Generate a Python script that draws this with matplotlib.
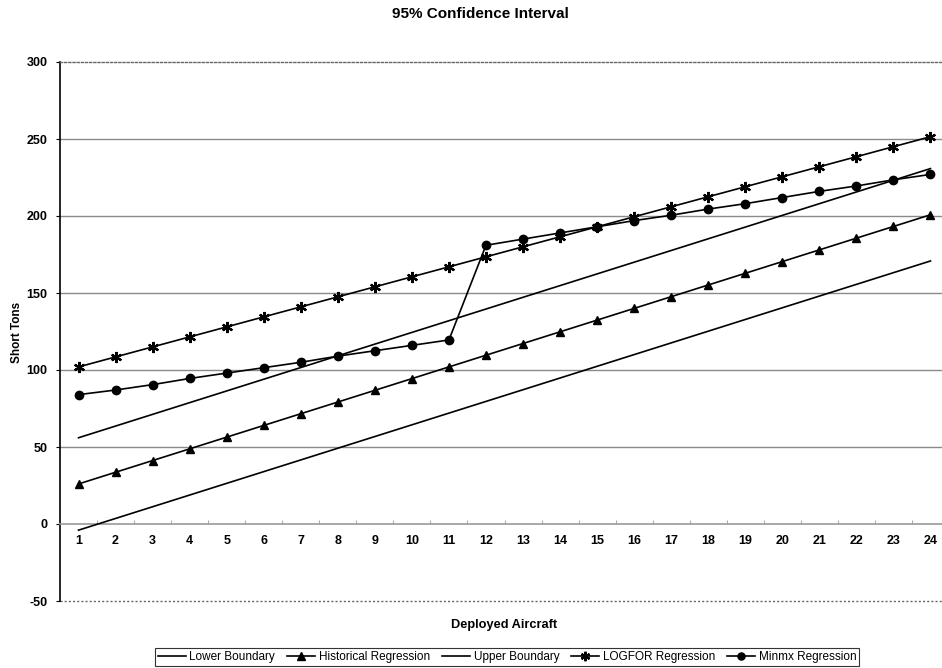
import matplotlib
matplotlib.use("Agg")
import matplotlib.pyplot as plt
from matplotlib.ticker import FixedLocator

plt.rcParams['font.family'] = ['Liberation Sans', 'DejaVu Sans']

aircraft = list(range(1, 25))

lower_boundary = [-4.0, 3.6, 11.2, 18.8, 26.4, 34.0, 41.6, 49.2, 56.8, 64.4, 72.0, 79.6,
                  87.2, 94.8, 102.4, 110.0, 117.6, 125.2, 132.8, 140.4, 148.0, 155.6, 163.2, 170.8]
historical = [26.0, 33.6, 41.2, 48.8, 56.4, 64.0, 71.6, 79.2, 86.8, 94.4, 102.0, 109.6,
              117.2, 124.8, 132.4, 140.0, 147.6, 155.2, 162.8, 170.4, 178.0, 185.6, 193.2, 200.8]
upper_boundary = [56.0, 63.6, 71.2, 78.8, 86.4, 94.0, 101.6, 109.2, 116.8, 124.4, 132.0, 139.6,
                  147.2, 154.8, 162.4, 170.0, 177.6, 185.2, 192.8, 200.4, 208.0, 215.6, 223.2, 230.8]
logfor = [102.0, 108.5, 115.0, 121.5, 128.0, 134.5, 141.0, 147.5, 154.0, 160.5, 167.0, 173.5,
          180.0, 186.5, 193.0, 199.5, 206.0, 212.5, 219.0, 225.5, 232.0, 238.5, 245.0, 251.5]
minmx = [84.0, 87.0, 90.5, 94.5, 98.0, 101.5, 105.0, 109.0, 112.5, 116.0, 119.5, 181.0,
         185.0, 189.0, 193.0, 197.0, 200.5, 204.5, 208.0, 212.0, 216.0, 219.5, 223.5, 227.0]

y_ticks = [-50, 0, 50, 100, 150, 200, 250, 300]

fig = plt.figure(figsize=(9.42, 6.68), dpi=100)
ax = fig.add_axes([60 / 942, 1 - 601 / 668, 889 / 942, 539 / 668])

ax.set_xlim(0.5, 24.5)
ax.set_ylim(-50, 300)

# horizontal gridlines
for y in y_ticks[2:-1]:
    ax.axhline(y, color='#8a8a8a', lw=1.0, zorder=1)
ax.axhline(-50, color='#666666', lw=1.0, ls=(0, (1.5, 1.5)), zorder=1, clip_on=False)

lw = 1.2
ax.plot(aircraft, lower_boundary, color='black', lw=lw, label='Lower Boundary', zorder=3)
ax.plot(aircraft, historical, color='black', lw=lw, marker='^', ms=6,
        label='Historical Regression', zorder=3)
ax.plot(aircraft, upper_boundary, color='black', lw=lw, label='Upper Boundary', zorder=3)
ax.plot(aircraft, logfor, color='black', lw=lw, marker=(6, 2, 0), ms=8, mew=1.6,
        label='LOGFOR Regression', zorder=3)
ax.plot(aircraft, minmx, color='black', lw=lw, marker='o', ms=6,
        label='Minmx Regression', zorder=3)

# spines: category axis crosses at zero
ax.spines['bottom'].set_position(('data', 0))
ax.spines['bottom'].set_color('#9a9a9a')
ax.spines['bottom'].set_linewidth(1.2)
ax.spines['right'].set_visible(False)
ax.spines['top'].set_linestyle((0, (1.5, 1.5)))
ax.spines['top'].set_color('#666666')
ax.spines['top'].set_linewidth(1.0)
ax.spines['left'].set_color('black')
ax.spines['left'].set_linewidth(1.2)

ax.xaxis.set_major_locator(FixedLocator(aircraft))
ax.xaxis.set_minor_locator(FixedLocator([a + 0.5 for a in aircraft[:-1]]))
ax.tick_params(axis='x', which='major', length=0, pad=8, labelsize=9)
ax.tick_params(axis='x', which='minor', length=3, direction='in', color='#9a9a9a')
ax.set_xticklabels([str(a) for a in aircraft], fontweight='bold')

ax.yaxis.set_major_locator(FixedLocator(y_ticks))
ax.tick_params(axis='y', which='major', length=3, direction='out', labelsize=9, pad=6)
ax.set_yticklabels([str(v) for v in y_ticks], fontweight='bold')

fig.text(480 / 942, 1 - 14 / 668, '95% Confidence Interval', ha='center', va='center',
         fontsize=11, fontweight='bold')
fig.text(17 / 942, 1 - 332 / 668, 'Short Tons', ha='center', va='center', rotation=90,
         fontsize=8.5, fontweight='bold')
fig.text(504 / 942, 1 - 625 / 668, 'Deployed Aircraft', ha='center', va='center',
         fontsize=9.2, fontweight='bold')

leg = fig.legend(loc='center', bbox_to_anchor=(507 / 942, 1 - 657 / 668), ncol=5,
                 fontsize=8.5, frameon=True, fancybox=False, handlelength=2.4,
                 handletextpad=0.3, columnspacing=1.0, borderpad=0.25,
                 edgecolor='black', markerscale=0.85)
leg.get_frame().set_linewidth(0.8)

fig.savefig('out.png', dpi=100)
